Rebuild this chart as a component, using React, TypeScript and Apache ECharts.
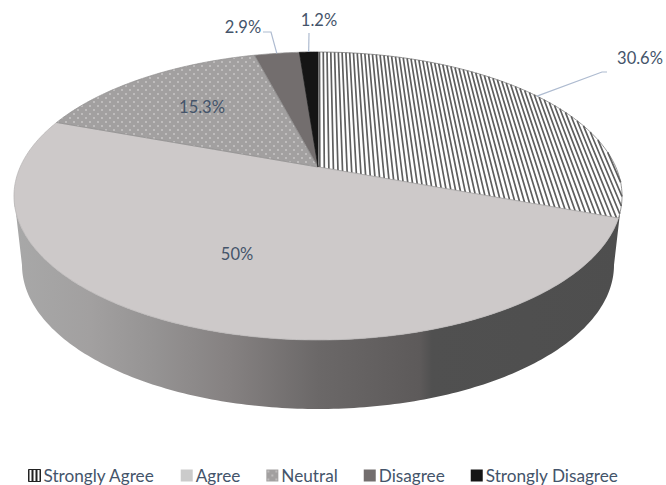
import React, { useEffect, useRef } from "react";
import * as echarts from "echarts";

const categories = ["Strongly Agree", "Agree", "Neutral", "Disagree", "Strongly Disagree"];
const values = [30.6, 50, 15.3, 2.9, 1.2];
const valueLabels = ["30.6%", "50%", "15.3%", "2.9%", "1.2%"];

// Projection of the tilted disc: centre, horizontal scale and perspective terms
const CX = 318, KX = 297.8, CY = 167, AY = 104.5, PERSP = -0.2014;
const FONT = "Lato";
const LABEL_COLOR = "#44546a";
const LEADER_COLOR = "#aebbd0";

const project = (u: number, v: number): [number, number] => {
  const d = 1 + PERSP * v;
  return [CX + (KX * u) / d, (AY * v + CY) / d];
};
const atAngle = (t: number): [number, number] => project(Math.sin(t), -Math.cos(t));

const total = values.reduce((a, b) => a + b, 0);
const angleAt = (i: number) =>
  (values.slice(0, i).reduce((a, b) => a + b, 0) / total) * Math.PI * 2;

const makeCanvas = (w: number, h: number, draw: (c: CanvasRenderingContext2D) => void) => {
  const cv = document.createElement("canvas");
  cv.width = w;
  cv.height = h;
  draw(cv.getContext("2d") as CanvasRenderingContext2D);
  return cv;
};

const hatchLines = (endAngle: number) => {
  // vertical stripes lying in the disc's plane, so they lean with the perspective
  let d = "";
  const eu = Math.sin(endAngle), ev = -Math.cos(endAngle);
  for (let u = 0.006; u < 1; u += 0.0152) {
    const top = -Math.sqrt(1 - u * u);
    let bottom = Math.sqrt(1 - u * u);
    if (u <= eu) bottom = Math.min(bottom, (u * ev) / eu);
    const a = project(u, top), b = project(u, bottom);
    d += `M${a[0].toFixed(2)} ${a[1].toFixed(2)}L${b[0].toFixed(2)} ${b[1].toFixed(2)}`;
  }
  return d;
};

const wallPolygon = () => {
  const pts: number[][] = [];
  for (let i = 0; i <= 180; i++) {
    const p = (i / 180) * Math.PI;
    pts.push([318 + 304 * Math.cos(Math.PI - p), 196 + 144 * Math.sin(p)]);
  }
  for (let i = 0; i <= 180; i++) {
    const p = (i / 180) * Math.PI;
    pts.push([318 + 296 * Math.cos(p), 265 + 144 * Math.sin(p)]);
  }
  return pts;
};

const wallGradient = () => {
  const stop = (x: number) => (x - 14) / 608;
  return new echarts.graphic.LinearGradient(0, 0, 1, 0, [
    { offset: 0, color: "#a8a8a8" },
    { offset: stop(90), color: "#a2a0a0" },
    { offset: stop(150), color: "#969494" },
    { offset: stop(230), color: "#858181" },
    { offset: stop(318), color: "#6b6868" },
    { offset: stop(420), color: "#5d5a5a" },
    { offset: stop(432), color: "#505050" },
    { offset: 1, color: "#4e4e4e" },
  ]);
};

export default function App() {
  const ref = useRef<HTMLDivElement>(null);
  useEffect(() => {
    const hatchIcon = makeCanvas(4, 4, (c) => {
      c.fillStyle = "#222";
      c.fillRect(0, 0, 4, 4);
      c.fillStyle = "#fff";
      c.fillRect(1, 0, 2, 4);
    });
    const dots = makeCanvas(8, 8, (c) => {
      c.fillStyle = "#a2a0a0";
      c.fillRect(0, 0, 8, 8);
      c.fillStyle = "#bebcbc";
      c.fillRect(1, 1, 2, 2);
      c.fillRect(5, 5, 2, 2);
    });
    const fills: any[] = [
      "#ffffff",
      "#cdc9c9",
      { image: dots, repeat: "repeat" },
      "#736e6e",
      "#151515",
    ];
    const iconFills: any[] = [
      { image: hatchIcon, repeat: "repeat" },
      "#cbcbcb",
      { image: dots, repeat: "repeat" },
      "#736e6e",
      "#151515",
    ];
    // anchors of the value labels, leader elbows
    const labelAt: number[][] = [[640, 58], [237, 254], [202, 107], [243, 27], [319, 20]];
    const elbows: (number[][] | null)[] = [
      [[602, 72], [607, 72]],
      null,
      null,
      [[271, 32], [263, 32]],
      [[309, 33]],
    ];

    const renderItem = (params: any) => {
      const i = params.seriesIndex;
      const a0 = angleAt(i), a1 = angleAt(i + 1);
      const children: any[] = [];
      if (i === 0) {
        children.push({
          type: "polygon",
          shape: { points: wallPolygon() },
          style: { fill: wallGradient() },
        });
      }
      const pts: number[][] = [project(0, 0)];
      const n = Math.max(6, Math.round((a1 - a0) * 90));
      for (let k = 0; k <= n; k++) pts.push(atAngle(a0 + ((a1 - a0) * k) / n));
      children.push({
        type: "polygon",
        shape: { points: pts },
        style: {
          fill: fills[i],
          stroke: i === 0 ? "#6a6a6a" : i === 1 ? "#b5b2b2" : fills[i] === "#151515" ? "#151515" : "#8e8c8c",
          lineWidth: 0.7,
        },
      });
      if (i === 0) {
        children.push({
          type: "path",
          shape: { pathData: hatchLines(a1) },
          style: { fill: null, stroke: "#5e5e5e", lineWidth: 1.7 },
        });
      }
      const elbow = elbows[i];
      if (elbow) {
        const mid = atAngle((a0 + a1) / 2);
        children.push({
          type: "polyline",
          shape: { points: [mid, ...elbow] },
          style: { fill: null, stroke: LEADER_COLOR, lineWidth: 1.2 },
          z2: 5,
        });
      }
      children.push({
        type: "text",
        z2: 6,
        style: {
          text: valueLabels[i],
          x: labelAt[i][0],
          y: labelAt[i][1],
          fill: LABEL_COLOR,
          fontFamily: FONT,
          fontSize: 16.5,
          align: "center",
          verticalAlign: "middle",
        },
      });
      return { type: "group", children };
    };

    const chart = echarts.init(ref.current as HTMLDivElement, undefined, { renderer: "svg" });
    chart.setOption({
      animation: false,
      backgroundColor: "#ffffff",
      legend: {
        left: 28,
        top: 467,
        itemWidth: 12,
        itemHeight: 12,
        itemGap: 26,
        padding: 0,
        selectedMode: false,
        icon: "rect",
        textStyle: { color: LABEL_COLOR, fontFamily: FONT, fontSize: 17.2, padding: [0, 0, 0, -2] },
        data: categories.map((name, i) => ({
          name,
          itemStyle: {
            color: iconFills[i],
            borderColor: i === 0 ? "#222" : "transparent",
            borderWidth: i === 0 ? 1 : 0,
          },
        })),
      },
      series: categories.map((name, i) => ({
        type: "custom",
        name,
        coordinateSystem: "none",
        silent: true,
        clip: false,
        z: i,
        itemStyle: { color: typeof iconFills[i] === "string" ? iconFills[i] : "#888" },
        data: [values[i]],
        renderItem,
      })),
    });
    return () => chart.dispose();
  }, []);
  return <div ref={ref} style={{ position: "fixed", left: 0, top: 0, width: 666, height: 485 }} />;
}
